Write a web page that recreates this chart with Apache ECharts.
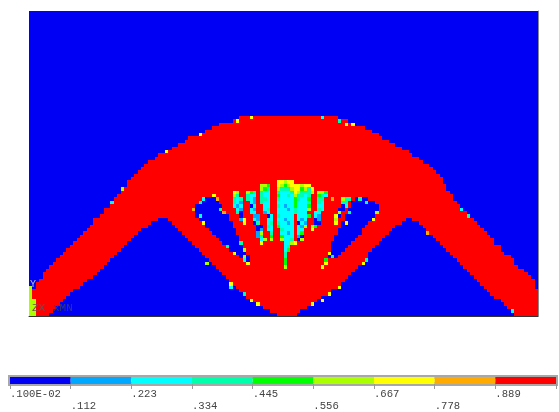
<!DOCTYPE html>
<html><head><meta charset="utf-8">
<style>html,body{margin:0;padding:0;background:#fff}#c{width:559px;height:412px}</style>
<script src="https://cdn.jsdelivr.net/npm/echarts@6/dist/echarts.min.js"></script>
</head><body><div id="c"></div>
<script>
const levelColors=['#0000f4','#00a8ff','#00ffff','#00ffaa','#00ff00','#aaff00','#ffff00','#ffaa00','#ff0000'];
const tickLabels=['.100E-02','.112','.223','.334','.445','.556','.667','.778','.889'];
const COLS=150, ROWS=90, FIRST_ROW=31;
// outer contour of the solid material, one entry per element row from FIRST_ROW
const bodyLeft=[62,60,56,54,52,50,47,46,44,42,40,38,37,35,34,33,32,31,30,29,29,28,27,26,25,24,24,22,22,21,19,19,18,17,16,15,14,13,12,11,10,9,8,7,6,5,4,4,3,2,2,1,1,1,1,1,1,1,1];
const bodyRight=[90,93,95,98,100,102,103,105,107,109,111,112,114,115,117,118,119,120,121,121,122,122,123,124,124,125,126,127,128,129,130,131,132,133,134,135,136,136,138,138,139,141,142,142,143,145,146,147,148,148,148,149,149,149,149,149,149,149,149];
// void regions: [row, first col, last col]
const leftArch=[[61,38,40],[62,36,41],[63,35,42],[64,33,43],[65,32,44],[66,31,45],[67,30,46],[68,29,47],[69,28,48],[70,27,49],[71,26,50],[72,25,51],[73,24,52],[74,23,53],[75,22,54],[76,21,55],[77,20,56],[78,19,57],[79,17,58],[80,16,59],[81,15,60],[82,13,61],[83,12,62],[84,11,63],[85,10,64],[86,9,66],[87,8,68],[88,7,70],[89,6,72]];
const rightArch=[[61,111,112],[62,110,114],[63,108,115],[64,107,116],[65,106,117],[66,105,118],[67,104,119],[68,103,120],[69,102,121],[70,101,122],[71,100,123],[72,100,124],[73,99,125],[74,98,126],[75,97,127],[76,96,128],[77,95,129],[78,94,130],[79,93,131],[80,92,132],[81,91,133],[82,89,134],[83,88,135],[84,86,136],[85,85,138],[86,83,139],[87,82,140],[88,80,141],[89,79,142]];
const leftHole=[[55,52,54],[56,50,55],[57,49,56],[58,49,56],[59,49,57],[60,49,58],[61,50,58],[62,51,59],[63,52,59],[64,53,60],[65,54,60],[66,55,61],[67,56,61],[68,57,62],[69,58,62],[70,59,63],[71,60,63],[72,62,64],[73,63,64]];
const rightHole=[[55,96,99],[56,95,101],[57,95,102],[58,94,102],[59,94,102],[60,93,101],[61,93,100],[62,92,99],[63,92,98],[64,91,97],[65,91,97],[66,90,96],[67,90,95],[68,89,94],[69,89,93],[70,89,92],[71,88,91],[72,88,90]];
// partial-density fan: [row, first col, one level digit per cell]
const fanCells=[
[53,60,"65"],[54,60,"53"],[55,60,"323"],[56,60,"321"],[57,60,"212"],[58,61,"21"],[59,61,"30"],[60,62,"0"],[61,62,"16"],[62,63,"6"],
[53,64,"543"],[54,64,"322"],[55,64,"321"],[56,65,"21"],[57,65,"02"],[58,65,"21"],[59,65,"22"],[60,66,"11"],[61,66,"21"],[62,66,"03"],[63,67,"00"],[64,67,"01"],[65,67,"15"],[66,67,"13"],[67,68,"25"],[68,68,"6"],
[51,68,"554"],[52,68,"543"],[53,68,"322"],[54,68,"322"],[55,68,"332"],[56,68,"322"],[57,69,"22"],[58,69,"23"],[59,69,"12"],[60,70,"02"],[61,70,"22"],[62,70,"23"],[63,70,"32"],[64,70,"22"],[65,71,"3"],[66,71,"4"],[67,71,"5"],
[50,73,"66566"],[51,73,"65456"],[52,73,"53335"],[53,73,"32223"],[54,73,"42232"],[55,73,"32222"],[56,73,"22222"],[57,73,"32122"],[58,73,"22212"],[59,73,"22222"],[60,73,"32222"],[61,73,"22122"],[62,73,"32212"],[63,73,"42222"],[64,74,"3222"],[65,74,"2212"],[66,74,"4222"],[67,74,"5223"],[68,75,"225"],[69,75,"23"],[70,75,"24"],[71,75,"3"],[72,75,"3"],[73,75,"4"],[74,75,"4"],[75,75,"5"],
[51,78,"66566"],[52,78,"664536"],[53,78,"653335"],[54,78,"53323"],[55,78,"43224"],[56,78,"42223"],[57,78,"42224"],[58,78,"32225"],[59,78,"3222"],[60,79,"2224"],[61,79,"212"],[62,79,"021"],[63,79,"215"],[64,79,"22"],[65,79,"24"],[66,79,"10"],[67,79,"05"],[68,78,"6"],
[53,85,"554"],[54,85,"432"],[55,85,"33"],[56,85,"32"],[57,85,"22"],[58,85,"32"],[59,84,"22"],[60,84,"21"],[61,84,"01"],[62,84,"00"],[63,83,"54"],[64,83,"6"],
[55,89,"7"],
[55,92,"533"],[56,92,"33"],[57,92,"02"],[58,91,"00"],[59,91,"5"],[60,90,"60"],[61,90,"5"],[62,90,"6"]];
// isolated partial-density cells on the contours: [col, row, level]
const edgeCells=[[65,31,6],[61,32,6],[50,36,6],[40,41,6],[27,52,5],[24,56,2],[52,74,5],[59,80,6],[59,81,2],[63,83,3],[65,85,6],[67,86,6],
[48,58,7],[50,56,3],[51,55,2],[54,54,6],[55,55,7],[56,58,3],[57,59,7],[50,60,2],[51,62,6],[58,69,3],[60,71,6],[62,68,3],[63,70,5],[63,72,5],[64,74,6],[63,73,2],
[86,31,2],[91,32,3],[93,33,6],[95,33,6],[127,58,2],[129,60,3],[117,65,7],[142,88,2],[98,74,6],[99,73,3],[91,81,6],[88,83,6],[86,85,6],[83,86,6],
[97,55,3],[99,56,2],[102,59,5],[101,61,6],[94,59,3],[93,62,6],[88,71,6],[89,72,3],[87,74,6],[86,75,6],[87,73,4]];
// corner strip at the lower-left support: [col, first row, last row, level]
const supportStrip=[[0,81,89,5],[1,85,89,5]];

const m=[];
for(let r=0;r<ROWS;r++){m.push(new Array(COLS).fill(0));}
bodyLeft.forEach((l,i)=>{for(let c=l;c<=bodyRight[i];c++)m[FIRST_ROW+i][c]=8;});
[leftArch,rightArch,leftHole,rightHole].forEach(a=>a.forEach(([r,s,e])=>{for(let c=s;c<=e;c++)m[r][c]=0;}));
fanCells.forEach(([r,s,t])=>{[...t].forEach((d,i)=>{m[r][s+i]=+d;});});
edgeCells.forEach(([c,r,v])=>{m[r][c]=v;});
supportStrip.forEach(([c,a,b,v])=>{for(let r=a;r<=b;r++)m[r][c]=v;});
const cells=[];
for(let r=0;r<ROWS;r++)for(let c=0;c<COLS;c++)cells.push([c,r,m[r][c]]);

const chart=echarts.init(document.getElementById('c'),null,{renderer:'canvas'});
const mono='"Liberation Mono","DejaVu Sans Mono",monospace';
chart.setOption({
 animation:false,
 backgroundColor:'#fff',
 grid:[
  {left:29,top:11,width:509,height:305},
  {left:10,top:377,width:548,height:8,show:true,borderColor:'#a8a8a8',borderWidth:4,backgroundColor:'transparent'}
 ],
 xAxis:[
  {gridIndex:0,type:'value',min:0,max:COLS,position:'bottom',
   axisLine:{show:true,onZero:false,lineStyle:{color:'#333',width:1}},axisTick:{show:false},axisLabel:{show:false},splitLine:{show:false}},
  {gridIndex:1,type:'value',min:0,max:9,interval:1,position:'bottom',
   axisLine:{show:false},axisTick:{show:true,length:5,lineStyle:{color:'#999'}},splitLine:{show:false},
   axisLabel:{show:true,align:'left',margin:5,fontFamily:mono,fontSize:10.6,color:'#444',
    formatter:v=>v%2===0&&v<9?tickLabels[v]:''}},
  {gridIndex:1,type:'value',min:0,max:9,interval:1,position:'bottom',offset:12,
   axisLine:{show:false},axisTick:{show:false},splitLine:{show:false},
   axisLabel:{show:true,align:'left',margin:5,fontFamily:mono,fontSize:10.6,color:'#444',
    formatter:v=>v%2===1&&v<9?tickLabels[v]:''}}
 ],
 yAxis:[
  {gridIndex:0,type:'value',inverse:true,min:0,max:ROWS,position:'right',
   axisLine:{show:true,onZero:false,lineStyle:{color:'#8a8a8a',width:1}},axisTick:{show:false},axisLabel:{show:false},splitLine:{show:false}},
  {gridIndex:1,type:'value',min:0,max:1,show:false}
 ],
 series:[
  {type:'custom',xAxisIndex:0,yAxisIndex:0,data:cells,silent:true,progressive:0,clip:false,z:1,
   renderItem:(p,api)=>{const c=api.value(0),r=api.value(1),a=api.coord([c,r]),b=api.coord([c+1,r+1]);
    const x=Math.round(a[0]),y=Math.round(a[1]);
    return {type:'rect',shape:{x,y,width:Math.round(b[0])-x,height:Math.round(b[1])-y},style:{fill:levelColors[api.value(2)]}};}},
  {type:'custom',xAxisIndex:1,yAxisIndex:1,silent:true,data:levelColors.map((c,i)=>[i]),encode:{x:0},z:5,
   renderItem:(p,api)=>{const i=api.value(0),a=api.coord([i,1]),b=api.coord([i+1,0]);
    return {type:'rect',shape:{x:a[0],y:a[1],width:b[0]-a[0],height:b[1]-a[1]},style:{fill:levelColors[i]}};}}
 ],
 graphic:[
  {type:'text',z:100,x:30,y:279,silent:true,style:{text:'Y',font:'10px '+mono,fill:'#b8c4c4'}},
  {type:'text',z:100,x:32,y:303,silent:true,style:{text:'ZX',font:'11px '+mono,fill:'#7a4a50'}},
  {type:'text',z:100,x:53,y:303,silent:true,style:{text:'xMN',font:'11px '+mono,fill:'#303a70'}}
 ]
});
</script></body></html>
